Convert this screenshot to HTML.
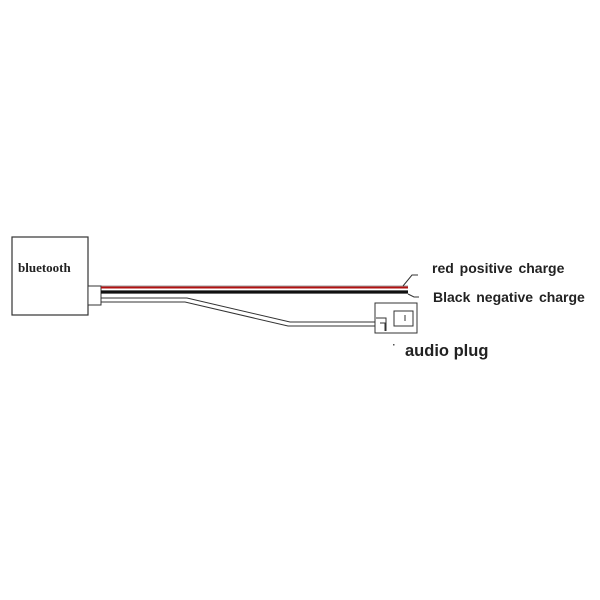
<!DOCTYPE html>
<html><head><style>body{margin:0;background:#fff}svg{display:block}</style></head><body>
<svg width="600" height="600" xmlns="http://www.w3.org/2000/svg">
<rect x="12" y="237" width="76" height="78" fill="#fff" stroke="#333" stroke-width="1.2"/>
<text x="18" y="272" font-family="Liberation Serif, serif" font-size="13" font-weight="bold" fill="#222">bluetooth</text>
<rect x="88" y="286" width="13" height="19" fill="#fff" stroke="#333" stroke-width="1"/>
<line x1="101" y1="287.5" x2="408" y2="287.5" stroke="#b01010" stroke-width="2"/>
<line x1="101" y1="286" x2="408" y2="286" stroke="#444" stroke-width="0.6"/>
<line x1="101" y1="292" x2="408" y2="292" stroke="#111" stroke-width="3.2"/>
<path d="M101 298 H187 L290 322 H375" fill="none" stroke="#333" stroke-width="1"/>
<path d="M101 302 H185 L288 326 H375" fill="none" stroke="#333" stroke-width="1"/>
<rect x="375" y="303" width="42" height="30" fill="#fff" stroke="#333" stroke-width="1"/>
<path d="M394 311 H413 V326 H394 Z M376 318 H386 V331 M380 323 h5 v8" fill="none" stroke="#333" stroke-width="1"/>
<line x1="405" y1="315" x2="405" y2="321" stroke="#333"/>
<path d="M403 286 L412 275 H418" fill="none" stroke="#333" stroke-width="1"/>
<path d="M408 294 L414 297 H419" fill="none" stroke="#333" stroke-width="1"/>
<rect x="393" y="344" width="1.5" height="1.5" fill="#555"/>
<text x="432" y="273" font-family="Liberation Sans, sans-serif" font-size="14" font-weight="bold" fill="#222" word-spacing="2">red positive charge</text>
<text x="433" y="302" font-family="Liberation Sans, sans-serif" font-size="14" font-weight="bold" fill="#222" word-spacing="2">Black negative charge</text>
<text x="405" y="356" font-family="Liberation Sans, sans-serif" font-size="16.5" font-weight="bold" fill="#222">audio plug</text>
</svg>
</body></html>
